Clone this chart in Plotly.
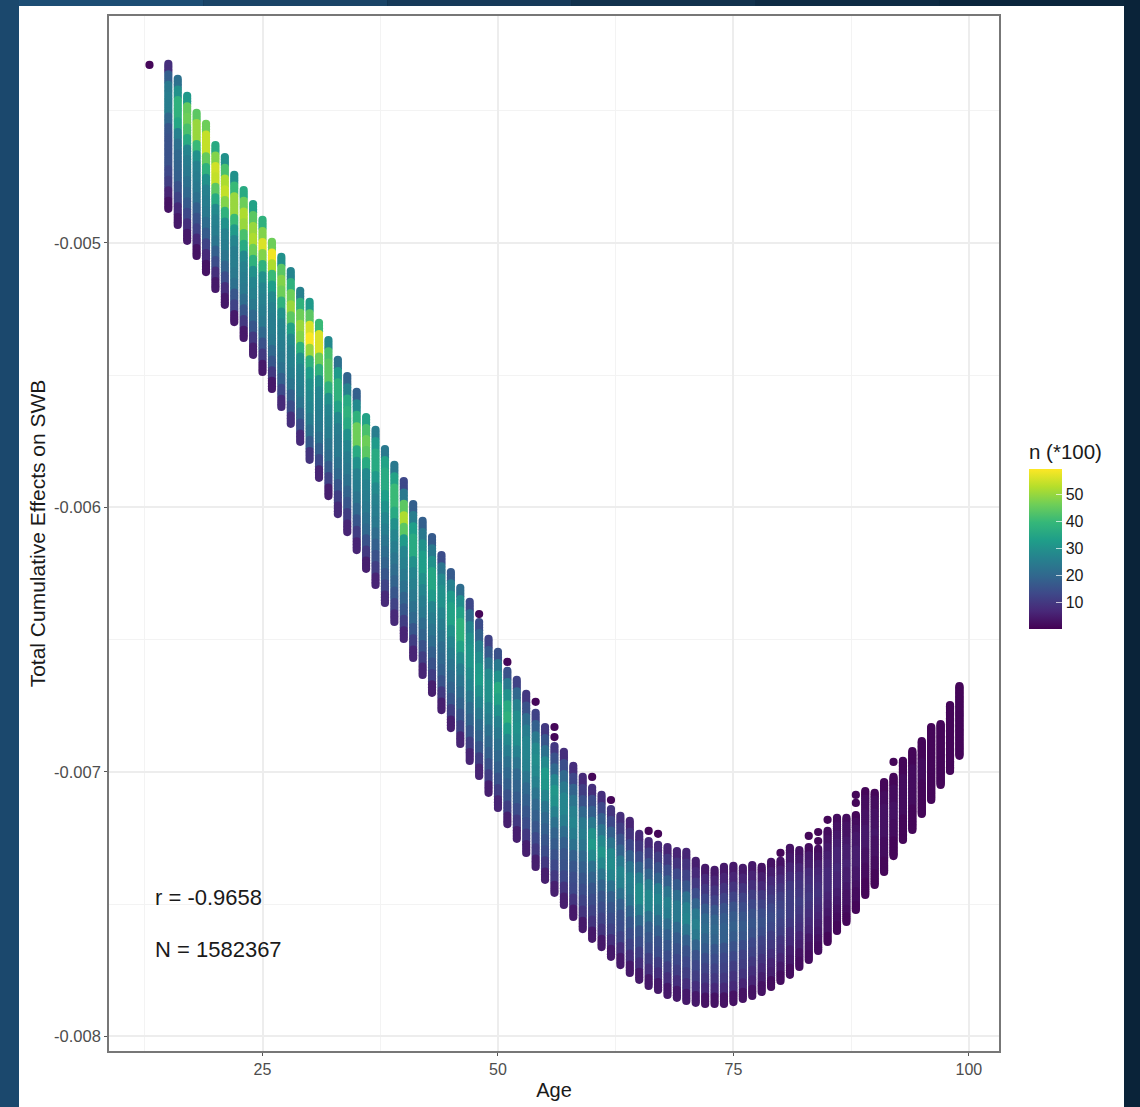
import plotly.graph_objects as go

# Ages with a full column of points
ages = list(range(15, 100))

# Highest value of each column (units: 1e-6 of SWB effect, negative)
col_top = [-4323,-4380,-4444,-4508,-4550,-4630,-4675,-4743,-4800,-4853,-4913,-4996,-5053,-5106,-5181,-5223,-5302,
           -5367,-5442,-5503,-5563,-5658,-5707,-5779,-5839,-5900,-5987,-6051,-6112,-6180,-6244,-6304,-6357,-6433,
           -6497,-6546,-6618,-6652,-6705,-6777,-6830,-6902,-6924,-6977,-7019,-7060,-7087,-7140,-7166,-7185,-7234,
           -7261,-7276,-7284,-7299,-7302,-7336,-7363,-7370,-7359,-7355,-7363,-7352,-7359,-7340,-7336,-7287,-7295,
           -7284,-7291,-7223,-7174,-7174,-7163,-7072,-7079,-7038,-7019,-6958,-6921,-6883,-6830,-6819,-6747,-6675]

# Lowest value of each column
col_bottom = [-4871,-4932,-4992,-5049,-5110,-5174,-5234,-5299,-5359,-5423,-5488,-5552,-5620,-5684,-5752,-5820,-5888,
              -5957,-6025,-6093,-6161,-6232,-6293,-6361,-6433,-6497,-6569,-6633,-6701,-6766,-6834,-6894,-6958,-7015,
              -7079,-7136,-7197,-7253,-7306,-7359,-7408,-7457,-7503,-7548,-7594,-7631,-7662,-7699,-7730,-7760,-7786,
              -7809,-7824,-7843,-7854,-7866,-7873,-7877,-7877,-7877,-7870,-7858,-7847,-7832,-7813,-7790,-7767,-7737,
              -7711,-7677,-7643,-7601,-7567,-7522,-7465,-7427,-7378,-7318,-7257,-7219,-7159,-7106,-7049,-6996,-6939]

# n (*100) read in bands, top of column to bottom, one row per age
n_bands = [
 [8,18,24,25,25,20,16,15,15,15,13,11,6,3],
 [22,30,38,38,35,26,22,20,19,18,15,12,7,4],
 [32,45,46,42,36,27,25,24,22,20,17,13,8,4],
 [44,50,50,40,30,26,25,24,22,18,15,12,7,3],
 [46,54,54,45,38,30,26,25,24,21,17,12,7,3],
 [36,48,55,54,44,36,28,26,25,23,18,14,8,4],
 [30,42,52,54,48,38,30,26,25,23,19,14,8,4],
 [30,40,50,50,40,32,27,25,25,24,22,16,12,4],
 [36,46,52,50,42,36,28,26,25,24,21,16,10,4],
 [34,44,50,52,46,38,30,27,26,24,20,16,10,5],
 [38,48,56,48,38,30,27,26,25,24,20,15,10,4],
 [46,58,52,40,33,28,26,25,25,24,20,16,10,4],
 [30,44,48,46,38,30,27,26,25,24,22,18,13,7],
 [27,38,46,50,44,34,28,26,26,25,23,18,14,8],
 [26,38,46,50,48,38,30,27,26,25,23,19,14,7],
 [32,44,56,59,50,38,33,30,28,27,25,22,17,9],
 [40,56,56,46,38,30,27,26,25,24,22,18,13,6],
 [28,42,44,44,38,30,27,26,25,23,21,17,12,5],
 [22,32,38,38,34,28,25,24,24,22,20,16,11,7],
 [19,26,36,38,36,30,27,25,24,22,19,16,11,6],
 [18,28,38,46,46,36,30,26,25,23,20,16,11,6],
 [34,42,46,44,36,28,26,25,24,22,20,15,10,5],
 [25,32,36,36,32,28,26,25,24,21,18,15,11,6],
 [24,34,36,36,33,30,27,25,23,21,19,16,12,7],
 [24,34,40,40,36,30,27,25,23,21,19,16,12,7],
 [13,24,44,52,44,32,27,26,24,22,19,16,11,6],
 [18,25,33,36,36,30,27,26,24,22,20,16,11,6],
 [18,24,30,33,33,30,27,25,24,21,19,15,11,6],
 [17,24,30,35,35,32,27,25,23,21,18,15,11,5],
 [14,23,28,30,30,27,25,23,21,20,18,15,10,5],
 [17,26,32,34,34,30,27,25,23,21,19,16,11,5],
 [21,29,34,38,38,34,29,25,23,21,19,16,12,6],
 [13,21,27,30,31,31,29,27,24,21,19,16,11,6],
 [14,19,26,29,32,33,30,27,24,21,19,16,11,6],
 [12,17,23,28,30,30,27,25,22,20,18,15,11,5],
 [15,24,30,36,34,30,26,24,22,20,18,15,11,6],
 [15,24,30,36,38,33,28,25,22,20,18,15,11,5],
 [12,20,26,29,30,29,26,23,20,19,17,14,10,5],
 [10,15,21,25,27,27,26,23,20,18,16,14,10,5],
 [12,18,24,28,29,28,26,23,20,18,16,13,10,5],
 [10,16,22,28,32,31,27,23,20,18,16,14,10,5],
 [10,15,20,27,31,30,26,22,19,17,15,13,10,5],
 [8,14,20,24,27,27,25,21,18,16,15,13,9,5],
 [8,13,19,23,26,27,25,22,18,16,14,13,9,4],
 [7,11,15,20,24,25,23,20,18,16,14,12,9,4],
 [8,14,18,24,30,32,28,22,19,16,14,12,9,4],
 [8,13,18,23,28,31,28,23,19,16,14,12,9,4],
 [9,13,18,23,28,29,27,22,18,16,14,12,8,4],
 [8,11,15,19,24,27,26,22,18,15,14,12,8,4],
 [6,9,13,18,23,26,25,23,19,16,14,12,8,4],
 [7,10,14,19,25,29,29,25,20,16,14,11,8,4],
 [7,11,15,19,25,28,27,22,18,16,14,11,8,4],
 [7,11,15,19,25,27,25,21,18,15,14,11,8,4],
 [6,10,14,18,23,26,25,21,18,16,14,11,8,4],
 [6,9,13,17,21,24,24,20,17,15,13,11,8,4],
 [6,9,12,16,22,26,27,23,18,15,13,11,8,4],
 [5,7,10,14,19,24,26,24,19,15,13,11,8,4],
 [4,7,10,13,17,20,21,19,17,14,12,10,7,3],
 [4,6,9,12,16,19,20,19,16,14,12,10,7,3],
 [4,6,9,12,15,17,18,18,15,13,12,10,7,3],
 [4,6,9,12,15,17,18,17,15,13,11,9,7,3],
 [4,6,9,12,14,16,17,16,14,12,11,9,6,3],
 [4,6,8,11,13,15,16,15,13,12,10,8,6,3],
 [3,5,7,10,12,14,15,14,12,11,9,7,5,3],
 [3,5,7,9,11,13,14,13,11,10,8,6,5,2],
 [3,5,7,9,11,12,13,12,11,9,8,6,4,2],
 [3,4,6,8,10,11,11,11,10,8,7,5,4,2],
 [3,4,6,8,9,10,11,10,9,8,6,5,3,2],
 [2,4,5,7,8,9,10,9,8,7,6,4,3,2],
 [2,3,5,6,7,8,9,8,7,6,5,4,3,2],
 [2,3,4,5,6,7,7,7,6,5,4,3,3,1],
 [2,3,4,5,6,6,7,6,6,5,4,3,2,1],
 [2,3,3,4,5,5,6,5,5,4,3,3,2,1],
 [1,2,3,4,4,5,5,5,4,4,3,2,2,1],
 [1,2,2,3,3,4,4,4,3,3,2,2,1,1],
 [1,2,2,3,3,3,4,3,3,3,2,2,1,1],
 [1,1,2,2,3,3,3,3,3,2,2,2,1,1],
 [1,1,2,2,2,3,3,3,2,2,2,1,1,1],
 [1,1,1,2,2,2,2,2,2,2,1,1,1,1],
 [1,1,1,2,2,2,2,2,2,2,1,1,1,1],
 [1,1,1,1,2,2,2,2,1,1,1,1,1,1],
 [1,1,1,1,1,1,1,1,1,1,1,1,1,1],
 [1,1,1,1,1,1,1,1,1,1,1,1,1,1],
 [1,1,1,1,1,1,1,1,1,1,1,1,1,1],
 [1,1,1,1,1,1,1,1,1,1,1,1,1,1],
]

# Isolated points outside the columns
stray_age = [13, 48, 51, 54, 56, 56, 60, 62, 66, 67, 80, 83, 84, 84, 85, 88, 88, 92]
stray_val = [-4327,-6403,-6584,-6735,-6830,-6868,-7019,-7106,-7223,-7234,-7306,-7242,-7227,-7261,-7181,-7087,-7117,-6962]
stray_n = [1] * len(stray_age)

x_ticks = [25, 50, 75, 100]
y_ticks = [-0.008, -0.007, -0.006, -0.005]
y_labels = ["-0.008", "-0.007", "-0.006", "-0.005"]
cbar_ticks = [10, 20, 30, 40, 50]

SCALE = 1e-6
PER_BAND = 4
xs, ys, cs = [], [], []
for age, top, bottom, row in zip(ages, col_top, col_bottom, n_bands):
    count = len(row) * PER_BAND
    for k in range(count):
        xs.append(age)
        ys.append((top + (bottom - top) * k / (count - 1)) * SCALE)
        cs.append(row[k // PER_BAND])
for a, v, n in zip(stray_age, stray_val, stray_n):
    xs.append(a)
    ys.append(v * SCALE)
    cs.append(n)

FONT = "Liberation Sans, Arial, sans-serif"
W, H = 1140, 1107
L, R, T, B = 109, 141, 16, 56
PW, PH = W - L - R, H - T - B
CMAX = 59.3
def px(v):
    return (v - L) / PW
def py(v):
    return 1 - (v - T) / PH

fig = go.Figure(go.Scatter(
    x=xs, y=ys, mode="markers", hoverinfo="skip",
    marker=dict(
        size=8.2, color=cs, cmin=0, cmax=CMAX, colorscale="Viridis", line=dict(width=0),
        colorbar=dict(
            title=dict(text="n (*100)", side="top", font=dict(size=20.5, color="#1a1a1a", family=FONT)),
            thicknessmode="pixels", thickness=33, lenmode="pixels", len=188,
            xref="paper", yref="paper",
            x=px(1029), xanchor="left",
            y=py(441), yanchor="top",
            xpad=0, ypad=0, outlinewidth=0, borderwidth=0,
            tickvals=cbar_ticks, ticks="inside", ticklen=6, tickcolor="rgba(255,255,255,0.7)", tickwidth=1,
            tickprefix="\u00a0\u00a0",
            tickfont=dict(size=16, color="#1a1a1a", family=FONT),
        ),
    ),
))

# Background: textured blue page behind a white card
top_strip = ["#1d4d74", "#1a4467", "#163a59", "#12324d", "#0e2b44", "#0b263c"]
shapes = [
    dict(type="rect", xref="paper", yref="paper", x0=px(0), x1=px(19), y0=py(H), y1=py(0),
         fillcolor="#1b486d", line_width=0, layer="below"),
    dict(type="rect", xref="paper", yref="paper", x0=px(1124), x1=px(W), y0=py(H), y1=py(0),
         fillcolor="#0a2339", line_width=0, layer="below"),
    dict(type="rect", xref="paper", yref="paper", x0=px(19), x1=px(1124), y0=py(H), y1=py(6),
         fillcolor="white", line_width=0, layer="below"),
]
seg = (1124 - 19) / len(top_strip)
for i, c in enumerate(top_strip):
    shapes.append(dict(type="rect", xref="paper", yref="paper", x0=px(19 + i * seg), x1=px(19 + (i + 1) * seg),
                       y0=py(6), y1=py(0), fillcolor=c, line_width=0, layer="below"))
# Colour-bar ticks also appear on its left edge
for v in cbar_ticks:
    yy = py(629 - v / CMAX * 160)
    shapes.append(dict(type="line", xref="paper", yref="paper", x0=px(1029), x1=px(1035), y0=yy, y1=yy,
                       line=dict(color="rgba(255,255,255,0.7)", width=1)))

fig.update_layout(
    width=W, height=H, autosize=False,
    margin=dict(l=L, r=R, t=T, b=B, pad=0),
    paper_bgcolor="#0a2339", plot_bgcolor="white",
    showlegend=False, shapes=shapes,
    font=dict(family=FONT, size=16, color="#4d4d4d"),
    annotations=[
        dict(x=13.4, y=-0.007476, xref="x", yref="y", text="r = -0.9658", showarrow=False, xanchor="left",
             font=dict(size=22, color="#1a1a1a", family=FONT)),
        dict(x=13.4, y=-0.007673, xref="x", yref="y", text="N = 1582367", showarrow=False, xanchor="left",
             font=dict(size=22, color="#1a1a1a", family=FONT)),
    ],
)
fig.update_xaxes(
    range=[8.7, 103.2], tickvals=x_ticks, ticks="outside", ticklen=3, tickcolor="#555555", tickwidth=1.2,
    tickfont=dict(size=16, color="#4d4d4d", family=FONT),
    showgrid=True, gridcolor="#ededed", gridwidth=1.6, zeroline=False,
    minor=dict(tickvals=[12.5, 37.5, 62.5, 87.5], showgrid=True, gridcolor="#f3f3f3", gridwidth=1, ticks=""),
    showline=True, linecolor="#777777", linewidth=1.6, mirror=True, automargin=False,
    title=dict(text="Age", standoff=6, font=dict(size=20, color="#1a1a1a", family=FONT)),
)
fig.update_yaxes(
    range=[-0.008055, -0.004142], tickvals=y_ticks, ticktext=y_labels, ticks="outside", ticklen=3,
    tickcolor="#555555", tickwidth=1.2,
    tickfont=dict(size=16.5, color="#4d4d4d", family=FONT),
    showgrid=True, gridcolor="#ededed", gridwidth=1.6, zeroline=False,
    minor=dict(tickvals=[-0.0075, -0.0065, -0.0055, -0.0045], showgrid=True, gridcolor="#f3f3f3", gridwidth=1, ticks=""),
    showline=True, linecolor="#777777", linewidth=1.6, mirror=True, automargin=False,
    title=dict(text="Total Cumulative Effects on SWB", standoff=3, font=dict(size=21, color="#1a1a1a", family=FONT)),
)

fig.write_html(
    "out.html",
    config=dict(displayModeBar=False),
    default_width=f"{W}px",
    default_height=f"{H}px",
    post_script="document.documentElement.style.margin='0';document.body.style.margin='0';"
                "document.body.style.background='#0a2339';",
)
